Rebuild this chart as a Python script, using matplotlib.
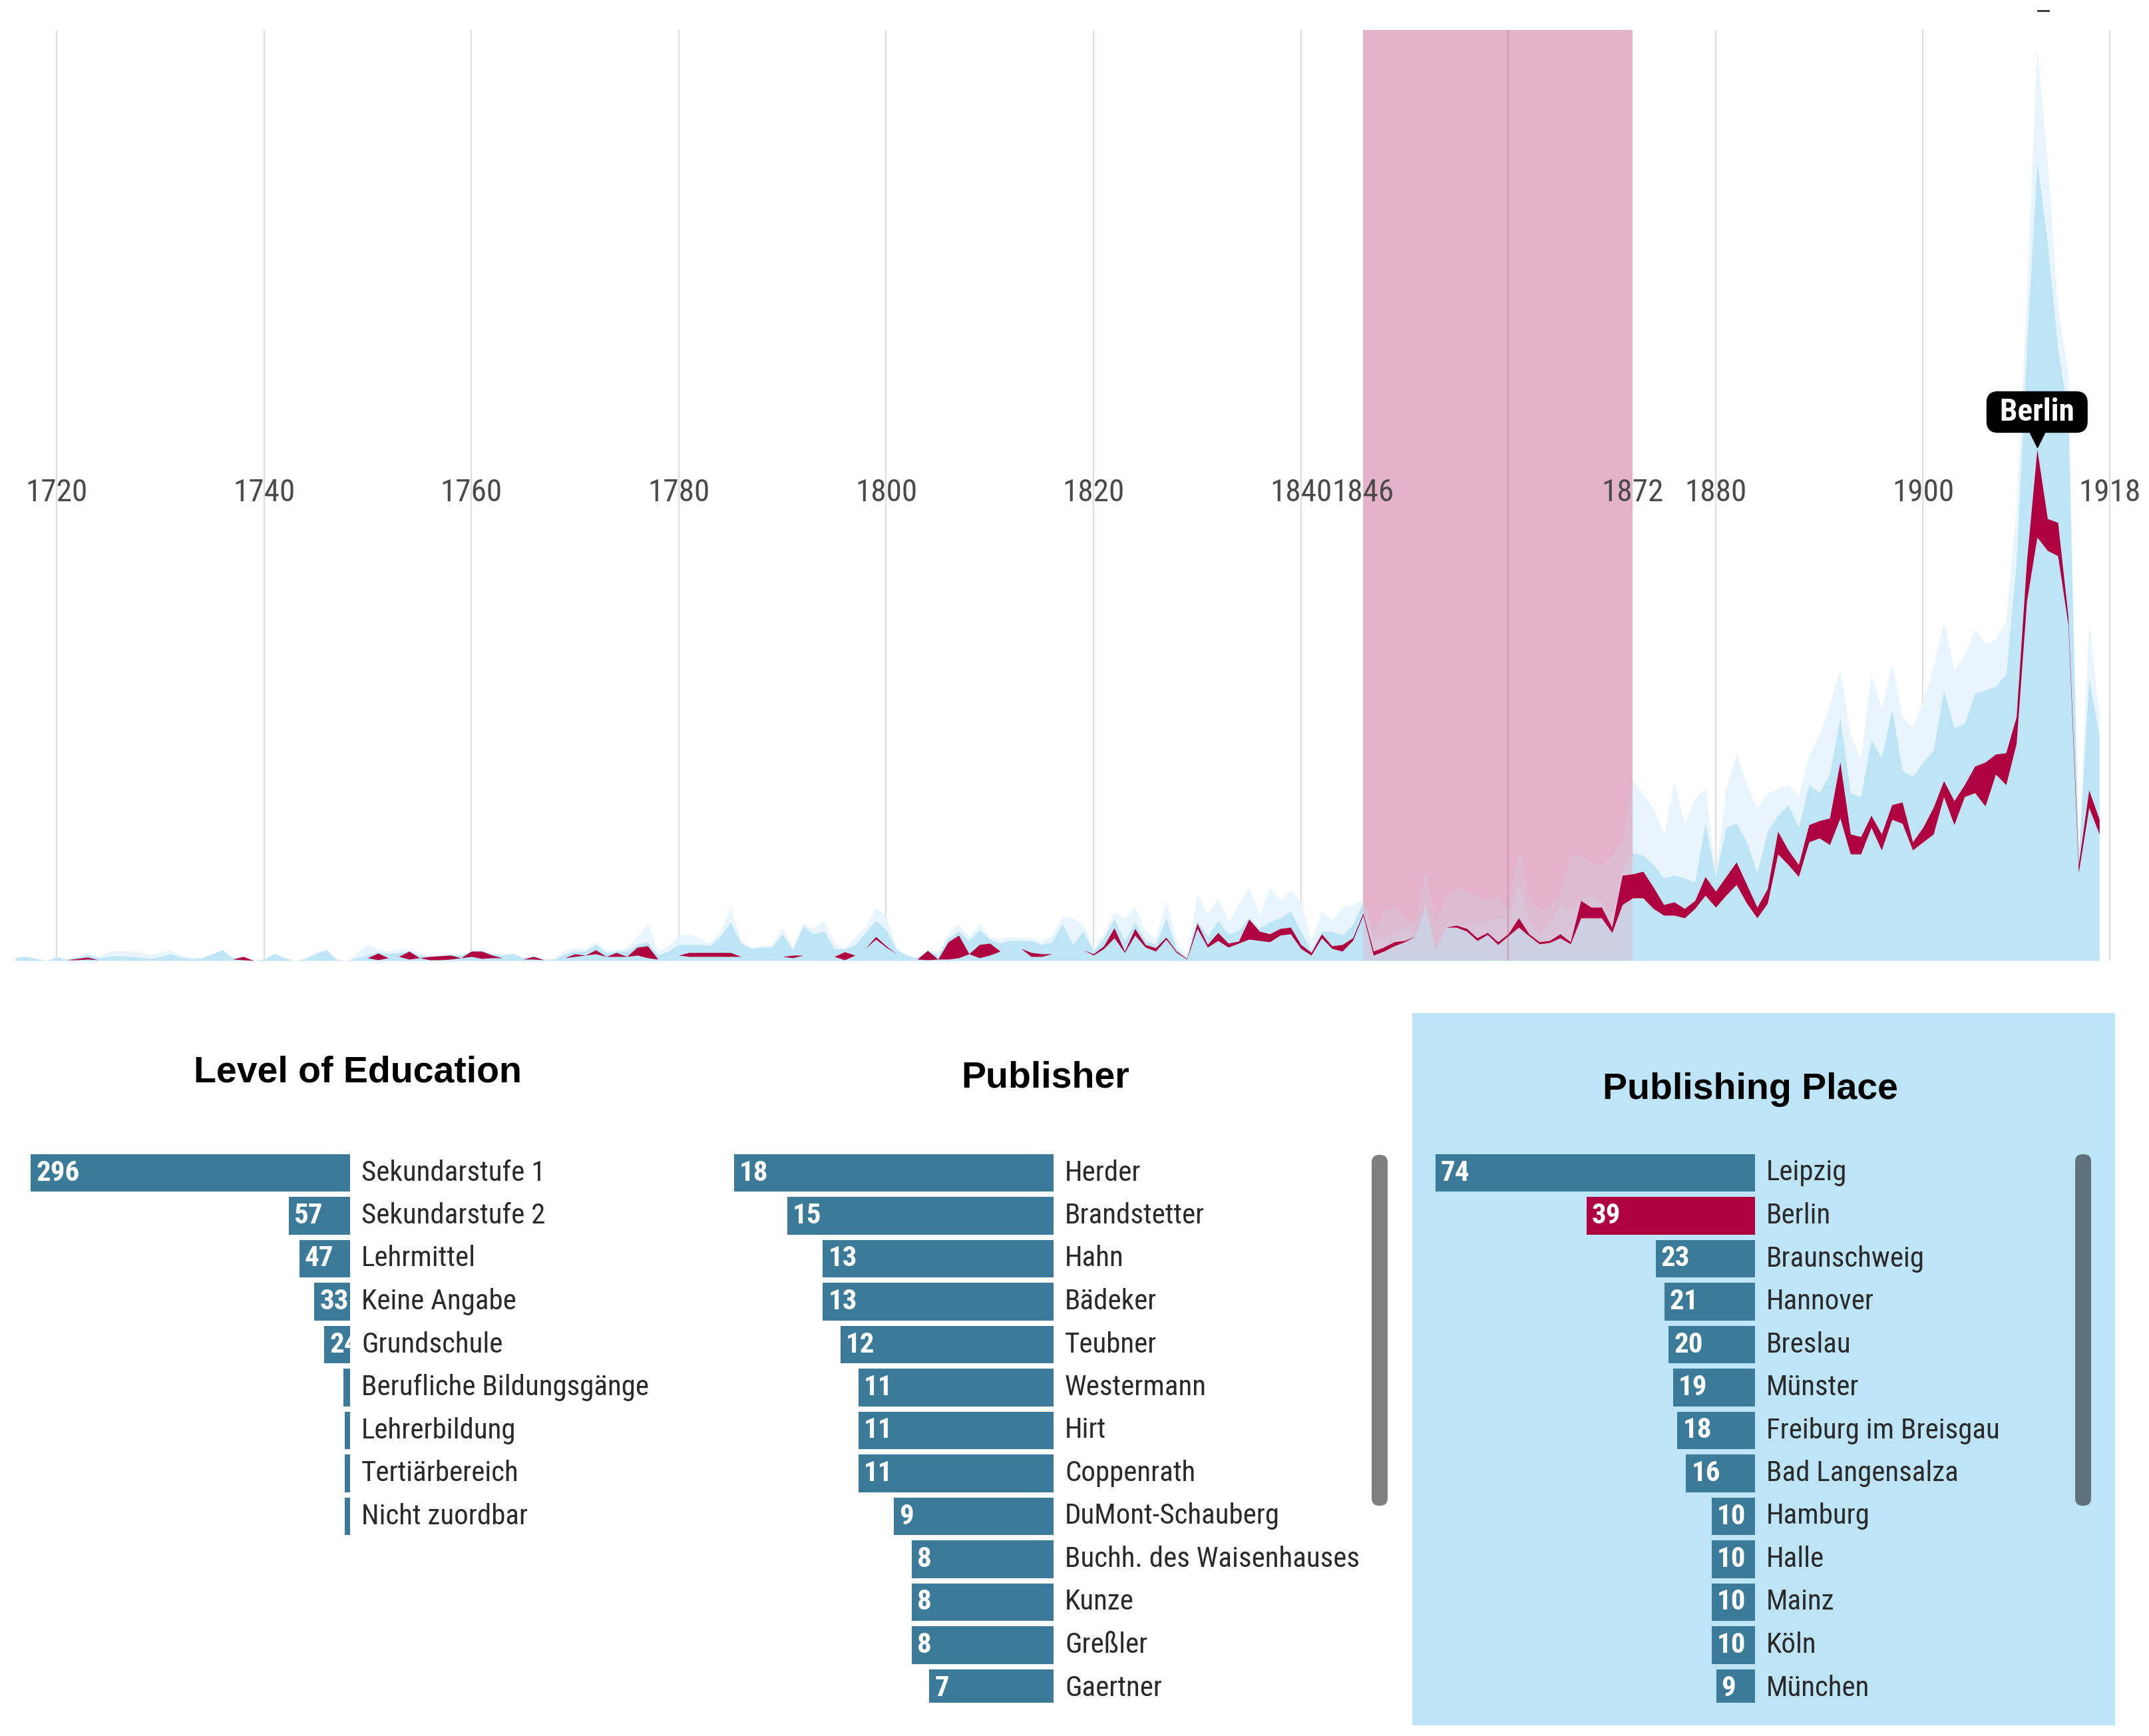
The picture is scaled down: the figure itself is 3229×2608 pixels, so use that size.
import matplotlib
matplotlib.use('Agg')
import matplotlib.pyplot as plt
from matplotlib import font_manager
from matplotlib.patches import Rectangle, FancyBboxPatch
from matplotlib.lines import Line2D
from matplotlib.transforms import ScaledTranslation, blended_transform_factory, offset_copy
import numpy as np

# ---------------- data ----------------
years = list(range(1716, 1918))

# stacked layers (publications per year) : places below Berlin, Berlin, places above Berlin, faint top layers
below = [
    0.1, 0.2, 0.1, 0, 0.15, 0.05, 0.05, 0.1, 0.05, 0.1,
    0.15, 0.15, 0.1, 0.05, 0.1, 0.2, 0.1, 0.1, 0.1, 0.2,
    0.3, 0.1, 0.05, 0, 0.05, 0.2, 0.1, 0, 0.05, 0.2,
    0.3, 0.05, 0, 0.1, 0.2, 0.05, 0.2, 0.3, 0.1, 0.2,
    0.05, 0.05, 0.1, 0.2, 0.3, 0.15, 0.2, 0.2, 0.3, 0.1,
    0.1, 0.05, 0.05, 0.2, 0.3, 0.4, 0.5, 0.3, 0.3, 0.3,
    0.4, 0.2, 0.1, 0.2, 0.4, 0.3, 0.3, 0.3, 0.3, 0.3,
    0.3, 0.3, 0.4, 0.3, 0.3, 0.2, 0.4, 0.5, 0.6, 0.3,
    0.05, 0.4, 0.9, 1.6, 1.0, 0.5, 0.2, 0.1, 0.05, 0.1,
    0.1, 0.2, 0.5, 0.2, 0.4, 0.7, 0.8, 0.9, 0.3, 0.3,
    0.5, 0.7, 0.4, 0.8,
    0.4, 0.9, 1.7, 0.6, 1.9, 1.0, 0.7, 1.6, 0.6, 0.1,
    2.4, 1.0, 1.5, 1.0, 1.3, 1.6, 1.5, 1.4, 1.9, 2.0,
    0.9, 0.4, 1.7, 0.9, 0.7, 1.5, 3.4, 0.4, 0.7, 1.1,
    1.4, 1.8, 4.0, 0.8, 2.5, 2.5, 2.2, 1.5, 1.95, 1.2,
    1.85, 2.5, 1.85, 1.25, 1.35, 1.7, 1.25, 3.2, 3.2, 3.2,
    2.1, 4.2, 4.7, 4.7, 3.9, 3.4, 3.4, 3.2, 3.9, 4.9,
    4.0, 4.9, 5.7, 4.3, 3.2, 4.3, 8.0, 7.2, 6.3, 8.9,
    9.2, 8.7, 10.7, 8.0, 8.0, 10.0, 8.3, 10.6, 10.3, 8.3,
    8.9, 9.5, 12.3, 10.2, 12.3, 12.6, 11.6, 14.0, 13.2, 16.3,
    27.0, 31.8, 30.8, 30.4, 25.2, 6.6, 11.5, 9.5,
]
berlin = [
    0, 0, 0, 0, 0, 0, 0.1, 0.15, 0, 0,
    0, 0, 0, 0, 0, 0, 0, 0, 0, 0,
    0, 0, 0.25, 0, 0, 0, 0, 0, 0, 0,
    0, 0, 0, 0, 0, 0.5, 0, 0, 0.6, 0,
    0.25, 0.3, 0.3, 0, 0.4, 0.55, 0.2, 0, 0, 0,
    0.2, 0, 0, 0, 0.2, 0, 0.3, 0, 0.3, 0,
    0.6, 0.9, 0, 0, 0, 0.3, 0.3, 0.3, 0.3, 0.3,
    0, 0, 0, 0, 0, 0.2, 0, 0, 0, 0,
    0.6, 0, 0, 0.2, 0.1, 0, 0, 0, 0.7, 0,
    1.3, 1.7, 0, 1.0, 0.9, 0, 0, 0, 0.3, 0.2,
    0, 0, 0, 0,
    0.1, 0.2, 0.75, 0.1, 0.5, 0.2, 0.25, 0.15, 0.1, 0.05,
    0.4, 0.2, 0.6, 0.3, 0.15, 1.5, 0.7, 0.6, 0.5, 0.5,
    0.3, 0.2, 0.3, 0.2, 0.5, 0.2, 0.15, 0.3, 0.3, 0.3,
    0.1, 0, 0, 0, 0, 0.15, 0.2, 0.2, 0.15, 0.2,
    0.15, 0.7, 0.15, 0.15, 0.15, 0.3, 0.15, 1.3, 0.8, 0.8,
    0.4, 2.2, 1.8, 2.0, 1.6, 0.8, 1.0, 0.7, 0.6, 1.4,
    1.2, 1.4, 1.7, 1.4, 0.8, 1.1, 1.7, 1.1, 0.9, 1.3,
    1.3, 2.0, 4.2, 1.5, 1.3, 0.9, 1.2, 1.1, 1.6, 0.6,
    1.1, 2.0, 1.2, 1.8, 0.9, 2.0, 3.3, 1.5, 2.4, 2.0,
    3.0, 6.6, 2.4, 2.5, 0.6, 0.6, 1.3, 1.1,
]
above = [
    0.1, 0.1, 0.05, 0, 0.1, 0.05, 0.1, 0.2, 0.15, 0.2,
    0.2, 0.15, 0.15, 0.1, 0.2, 0.3, 0.1, 0.05, 0.1, 0.3,
    0.5, 0.1, 0, 0, 0.05, 0.3, 0.1, 0, 0.1, 0.3,
    0.5, 0.05, 0, 0.1, 0.2, 0.1, 0.3, 0.3, 0, 0.2,
    0, 0.05, 0.05, 0.2, 0, 0.05, 0.1, 0.2, 0.2, 0.1,
    0.05, 0.05, 0.05, 0.3, 0.2, 0.3, 0.4, 0.3, 0.1, 0.4,
    0.2, 0.3, 0.3, 0.5, 0.8, 0.6, 0.6, 0.5, 1.2, 2.3,
    1.0, 0.6, 0.6, 0.7, 1.7, 0.4, 2.2, 1.5, 1.6, 0.6,
    0.2, 0.8, 1.2, 1.2, 1.2, 0.3, 0.2, 0.1, 0.05, 0.3,
    0.3, 0.3, 1.0, 1.1, 0.3, 0.6, 0.7, 0.6, 0.9, 0.7,
    0.9, 2.1, 0.8, 1.4,
    0.2, 0.6, 0.65, 0.8, 0.5, 0.3, 0.25, 1.45, 0.2, 0.05,
    0.2, 0.6, 0.9, 0.7, 0.8, 0.1, 0.2, 0.9, 0.8, 1.2,
    1.0, 0.1, 0.2, 1.1, 0.7, 1.0, 0.9, 1.0, 0.8, 0.6,
    1.0, 0.1, 0.5, 0.1, 0.2, 0.2, 0.2, 1.2, 0.9, 1.8,
    1.2, 2.7, 0.9, 0.5, 1.3, 2.2, 2.3, 0.0, 0.9, 0.5,
    1.0, 0.6, 1.6, 1.2, 1.7, 2.0, 2.0, 2.3, 1.4, 4.0,
    1.1, 3.7, 2.9, 3.2, 2.6, 4.3, 1.2, 3.4, 2.8, 3.0,
    2.1, 3.3, 3.4, 3.1, 3.0, 5.7, 5.7, 7.2, 2.4, 4.9,
    4.9, 4.3, 6.8, 5.5, 4.6, 5.5, 5.4, 5.1, 5.9, 11.7,
    16.0, 21.6, 20.8, 13.1, 15.2, 0.4, 8.4, 6.3,
]
fringe = [
    0, 0.05, 0, 0, 0.05, 0, 0, 0.1, 0.1, 0.4,
    0.4, 0.4, 0.4, 0.3, 0.3, 0.3, 0.2, 0.1, 0, 0,
    0, 0, 0, 0, 0, 0.1, 0, 0, 0.05, 0.1,
    0.1, 0, 0, 0.4, 0.8, 0.2, 0.2, 0.3, 0.1, 0.2,
    0, 0, 0.05, 0.1, 0.1, 0.05, 0.1, 0.1, 0.1, 0,
    0, 0, 0.05, 0.3, 0.3, 0.2, 0.2, 0.2, 0.1, 0.3,
    0.6, 1.4, 0.3, 0.4, 0.7, 0.8, 0.5, 0.2, 0.4, 1.1,
    0.2, 0.1, 0.1, 0.2, 0.5, 0.2, 0.2, 0.4, 0.8, 0.4,
    0.1, 0.6, 0.4, 1.0, 1.0, 0.2, 0, 0, 0, 0.3,
    0.4, 0.5, 0.3, 0.5, 0.2, 0.3, 0.3, 0.2, 0.2, 0.2,
    0.5, 0.5, 2.0, 0.5,
    0.2, 0.4, 0.6, 1.7, 1.1, 0.7, 0.5, 1.3, 0.6, 0,
    2.0, 1.7, 1.7, 0.9, 2.0, 2.3, 1.0, 2.6, 1.3, 1.6,
    2.2, 0.8, 1.5, 0.8, 2.1, 1.5, 0.1, 0.5, 1.9, 2.0,
    0.7, 0.9, 2.2, 2.0, 2.2, 2.7, 2.6, 2.0, 1.5, 1.8,
    0.7, 2.6, 1.8, 1.8, 1.4, 1.1, 4.3, 3.4, 2.5, 2.7,
    4.4, 1.9, 5.4, 4.6, 4.2, 3.3, 7.0, 4.0, 6.3, 2.6,
    0.3, 2.9, 5.2, 4.3, 4.9, 2.9, 2.0, 1.5, 2.3, 2.3,
    4.3, 5.2, 3.5, 4.3, 2.9, 4.9, 3.7, 3.4, 4.0, 3.7,
    4.6, 6.3, 5.2, 4.3, 5.1, 4.8, 3.5, 3.5, 4.0, 4.0,
    4.0, 8.5, 6.0, 3.0, 3.0, 0.4, 4.3, 1.4,
]

grid_years = [1720, 1740, 1760, 1780, 1800, 1820, 1840, 1860, 1880, 1900, 1918]
label_years = [1720, 1740, 1760, 1780, 1800, 1820, 1840, 1846, 1872, 1880, 1900, 1918]
brush_start, brush_end = 1846, 1872
tooltip_year = 1911
tooltip_text = "Berlin"

edu_labels = ["Sekundarstufe 1", "Sekundarstufe 2", "Lehrmittel", "Keine Angabe", "Grundschule",
              "Berufliche Bildungsgänge", "Lehrerbildung", "Tertiärbereich", "Nicht zuordbar"]
edu_values = [296, 57, 47, 33, 24, 6, 5, 5, 5]

pub_labels = ["Herder", "Brandstetter", "Hahn", "Bädeker", "Teubner", "Westermann", "Hirt",
              "Coppenrath", "DuMont-Schauberg", "Buchh. des Waisenhauses", "Kunze", "Greßler", "Gaertner"]
pub_values = [18, 15, 13, 13, 12, 11, 11, 11, 9, 8, 8, 8, 7]

place_labels = ["Leipzig", "Berlin", "Braunschweig", "Hannover", "Breslau", "Münster",
                "Freiburg im Breisgau", "Bad Langensalza", "Hamburg", "Halle", "Mainz", "Köln", "München"]
place_values = [74, 39, 23, 21, 20, 19, 18, 16, 10, 10, 10, 10, 9]
highlight_place = "Berlin"

# ---------------- styling ----------------
W, H, DPI = 3230, 2608, 100
BLUE = '#BEE5F6'
PALE = '#E8F5FC'
CRIMSON = '#AF003F'
BAND = '#E5B3C9'
GRID = '#DEDEDE'
BAR = '#3C7A99'
PANEL_BG = '#BEE5F7'

available = {f.name for f in font_manager.fontManager.ttflist}


def pick(cands, default='DejaVu Sans'):
    for c in cands:
        if c in available:
            return c
    return default


NARROW = pick(['Roboto Condensed', 'Liberation Sans Narrow', 'DejaVu Sans Condensed', 'Roboto'])
TITLEF = pick(['Liberation Sans', 'Arial', 'DejaVu Sans'])
nscale = 1.0 if NARROW in ('Roboto Condensed', 'Liberation Sans Narrow') else 0.85
NFAM = [NARROW, 'DejaVu Sans']

fig = plt.figure(figsize=(W / DPI, H / DPI), dpi=DPI)
fig.patch.set_facecolor('white')


def fx(px):
    return px / W


def fy(py):
    return 1 - py / H


# ---------------- top stream chart ----------------
BASE_Y, TOP_Y = 1443, 45
PX_PER_YEAR = 15.58
X_1720 = 85
ax = fig.add_axes([0, fy(BASE_Y), 1, (BASE_Y - TOP_Y) / H])
x0 = 1720 - X_1720 / PX_PER_YEAR
ax.set_xlim(x0, x0 + W / PX_PER_YEAR)
ymax = (BASE_Y - TOP_Y) / 20.0
ax.set_ylim(0, ymax)
ax.axis('off')

for g in grid_years:
    ax.axvline(g, color=GRID, lw=1.6, zorder=0)

yrs = np.array(years, dtype=float)
b0 = np.array(below)
b1 = b0 + np.array(berlin)
b2 = b1 + np.array(above)
b3 = b2 + np.array(fringe)

ax.fill_between(yrs, b2, b3, color=PALE, lw=0, zorder=1)
ax.fill_between(yrs, b0, b2, color=BLUE, lw=0, zorder=1)
ax.fill_between(yrs, 0, b0, color=BLUE, lw=0, zorder=1)

band = Rectangle((brush_start, 0), brush_end - brush_start, ymax, facecolor=BAND, lw=0, zorder=2)
ax.add_patch(band)
for lo, hi, c, a in [(np.zeros_like(b0), b0, BLUE, 0.6), (b1, b2, BLUE, 0.33), (b2, b3, BLUE, 0.2)]:
    p = ax.fill_between(yrs, lo, hi, color=c, alpha=a, lw=0, zorder=3)
    p.set_clip_path(band)
for g in grid_years:
    if brush_start < g < brush_end:
        ax.axvline(g, color='#C89FB3', lw=1.6, zorder=4)

ax.fill_between(yrs, b0, b1, color=CRIMSON, lw=0, zorder=5)

label_y = (BASE_Y - 740) / 20.0
for y in label_years:
    ax.text(y, label_y, str(y), ha='center', va='center', fontsize=34 * nscale,
            family=NFAM, fontstretch='condensed', color='#4a4a4a', zorder=6)

# tooltip
ti = years.index(tooltip_year)
ax.annotate(' ' + tooltip_text + ' ', xy=(tooltip_year, b1[ti]), xytext=(0, 56), textcoords='offset pixels',
            ha='center', va='center', fontsize=34 * nscale, fontweight='bold', family=NFAM,
            fontstretch='condensed', color='white', zorder=8,
            bbox=dict(boxstyle='round,pad=0.18,rounding_size=0.35', fc='black', ec='black'))
ax.plot([tooltip_year], [b1[ti]], marker='v', markersize=16, color='black', zorder=8,
        transform=offset_copy(ax.transData, fig=fig, x=0, y=14, units='dots'))
fig.add_artist(Line2D([fx(3062), fx(3078)], [fy(16), fy(16)], color='#333333', lw=2))

# ---------------- bar panels ----------------
ROW = 64.5
BAR_W = 480.0
ROW0_TOP = 1762 - ROW / 2
CUT_Y = 2558

# publishing-place panel background
fig.add_artist(Rectangle((fx(2122), fy(2592)), (3178 - 2122) / W, (2592 - 1522) / H,
                         transform=fig.transFigure, facecolor=PANEL_BG, lw=0, zorder=-5))


def panel(labels, values, right_px, bottom_px, colors):
    axp = fig.add_axes([fx(right_px - BAR_W), fy(bottom_px), BAR_W / W, (bottom_px - ROW0_TOP) / H])
    nvis = (bottom_px - ROW0_TOP) / ROW
    axp.set_xlim(max(values), 0)
    axp.set_ylim(nvis - 0.5, -0.5)
    axp.axis('off')
    bars = axp.barh(range(len(values)), values, height=0.876, color=colors, lw=0)
    off = axp.transData + ScaledTranslation(8 / DPI, 0, fig.dpi_scale_trans)
    lab_tr = blended_transform_factory(axp.transAxes, axp.transData)
    for i, (bar, v, lab) in enumerate(zip(bars, values, labels)):
        t = axp.text(v, i, str(v), transform=off, ha='left', va='center', color='white',
                     fontsize=31 * nscale, family=NFAM, fontstretch='condensed', fontweight='bold')
        t.set_clip_path(bar)
        axp.text(1 + 17 / BAR_W, i, lab, transform=lab_tr, ha='left', va='center', color='#2a2a2a',
                 fontsize=31 * nscale, family=NFAM, fontstretch='condensed', clip_on=False)
    return axp


panel(edu_labels, edu_values, 526, ROW0_TOP + ROW * len(edu_values), BAR)
panel(pub_labels, pub_values, 1583, CUT_Y, BAR)
panel(place_labels, place_values, 2637, CUT_Y,
      [CRIMSON if p == highlight_place else BAR for p in place_labels])

for txt, x, y in [("Level of Education", 538, 1612), ("Publisher", 1571, 1620), ("Publishing Place", 2630, 1637)]:
    fig.text(fx(x), fy(y), txt, ha='center', va='center', fontsize=40, fontweight='bold',
             family=[TITLEF, 'DejaVu Sans'], color='black')

# scrollbars
for x0s, x1s, y0s, y1s, col in [(2061, 2085, 1735, 2262, '#7F7F7F'), (3118, 3142, 1734, 2262, '#5F727B')]:
    fig.add_artist(FancyBboxPatch((x0s, H - y1s), x1s - x0s, y1s - y0s,
                                  boxstyle='round,pad=0,rounding_size=11', transform=None,
                                  facecolor=col, lw=0))

fig.savefig('out.png', dpi=DPI, facecolor='white')
